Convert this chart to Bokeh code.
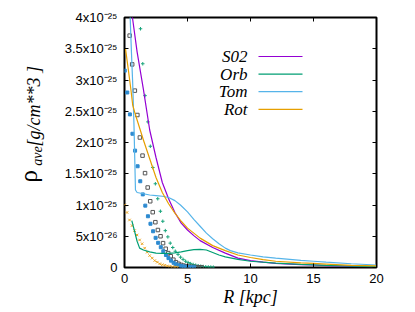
import math
from bokeh.plotting import figure
from bokeh.models import Range1d, FixedTicker, LinearAxis, Label, Arrow
from bokeh.layouts import row
from bokeh.core.properties import value
from bokeh.embed import file_html
from bokeh.resources import INLINE

# densities in units of 1e-25 g/cm^3, radii in kpc
s02_r = [0.3, 0.63, 1.0, 1.5, 2.0, 2.5, 3.0, 3.5, 4.0, 4.5, 5.0, 5.5, 6.0, 7.0, 8.0, 9.0, 10.0, 11.0, 12.0, 14.0, 15.0, 16.0, 18.0, 20.0]
s02_rho = [4.6, 4.0, 3.45, 2.85, 2.2, 1.76, 1.36, 1.1, 0.88, 0.71, 0.6, 0.51, 0.43, 0.32, 0.23, 0.15, 0.11, 0.085, 0.067, 0.045, 0.04, 0.03, 0.018, 0.012]

orb_r = [0.58, 0.8, 1.0, 1.2, 1.5, 2.0, 2.5, 3.0, 3.5, 4.0, 4.5, 5.0, 5.5, 6.0, 6.5, 7.0, 7.5, 8.0, 9.0, 10.0, 12.0, 14.0, 16.0, 18.0, 20.0]
orb_rho = [0.75, 0.58, 0.42, 0.31, 0.28, 0.25, 0.23, 0.225, 0.225, 0.235, 0.25, 0.27, 0.285, 0.29, 0.28, 0.24, 0.2, 0.17, 0.13, 0.1, 0.07, 0.05, 0.035, 0.022, 0.015]

tom_r = [0.35, 0.45, 0.55, 0.65, 0.75, 0.83, 0.87, 1.0, 1.5, 2.0, 2.5, 3.0, 3.5, 4.0, 4.44, 5.0, 5.5, 6.0, 6.5, 7.0, 7.5, 8.0, 8.4, 9.0, 10.0, 11.0, 12.0, 14.0, 15.0, 16.0, 18.0, 20.0]
tom_rho = [4.5, 4.0, 3.45, 2.95, 2.3, 1.6, 1.24, 1.2, 1.18, 1.16, 1.15, 1.14, 1.12, 1.07, 1.0, 0.89, 0.77, 0.66, 0.55, 0.46, 0.38, 0.31, 0.27, 0.235, 0.2, 0.17, 0.15, 0.115, 0.1, 0.085, 0.06, 0.04]

rot_r = [0.08, 0.3, 0.5, 0.65, 0.8, 1.0, 1.5, 2.0, 2.5, 3.0, 3.5, 4.0, 4.5, 5.0, 6.0, 7.0, 8.0, 9.0, 10.0, 11.0, 12.0, 14.0, 15.0, 16.0, 18.0, 20.0]
rot_rho = [3.5, 3.17, 2.86, 2.6, 2.49, 2.36, 2.04, 1.74, 1.44, 1.2, 1.02, 0.87, 0.74, 0.63, 0.47, 0.35, 0.27, 0.2, 0.16, 0.125, 0.1, 0.075, 0.065, 0.055, 0.035, 0.025]

# point samples
orbp_r = [1.27, 1.45, 1.63, 1.86, 2.05, 2.25, 2.45, 2.64, 2.85, 3.04, 3.24, 3.44, 3.63, 3.83, 4.03, 4.25, 4.45, 4.65, 4.85, 5.05, 5.25, 5.45, 5.65, 5.85, 6.05, 6.25, 6.45, 6.65, 6.85, 7.05]
orbp_rho = [3.82, 3.26, 2.75, 2.33, 1.94, 1.6, 1.34, 1.1, 0.9, 0.74, 0.59, 0.49, 0.39, 0.32, 0.26, 0.21, 0.165, 0.13, 0.1, 0.08, 0.062, 0.048, 0.037, 0.028, 0.021, 0.016, 0.012, 0.009, 0.007, 0.005]

sqp_r = [0.41, 0.61, 0.82, 1.02, 1.22, 1.43, 1.63, 1.84, 2.04, 2.24, 2.45, 2.65, 2.86, 3.06, 3.27, 3.47, 3.67, 3.88, 4.08, 4.29, 4.49, 4.69, 4.9, 5.1, 5.31, 5.51, 5.71, 5.92, 6.12]
sqp_rho = [3.71, 3.25, 2.83, 2.44, 2.08, 1.79, 1.51, 1.28, 1.06, 0.885, 0.725, 0.6, 0.5, 0.39, 0.3, 0.23, 0.18, 0.125, 0.085, 0.06, 0.042, 0.03, 0.021, 0.015, 0.011, 0.008, 0.006, 0.004, 0.003]

tomp_r = [0.02, 0.22, 0.43, 0.63, 0.84, 1.04, 1.25, 1.45, 1.65, 1.86, 2.06, 2.27, 2.47, 2.67, 2.88, 3.08, 3.29, 3.49, 3.69, 3.9, 4.1, 4.3, 4.51, 4.71, 4.92, 5.12, 5.33, 5.53]
tomp_rho = [3.15, 2.8, 2.45, 2.14, 1.87, 1.62, 1.38, 1.17, 0.99, 0.82, 0.7, 0.58, 0.475, 0.395, 0.325, 0.26, 0.2, 0.15, 0.11, 0.075, 0.05, 0.035, 0.025, 0.017, 0.012, 0.008, 0.005, 0.004]

rotp_r = [0.02, 0.2, 0.4, 0.6, 0.8, 1.0, 1.2, 1.4, 1.6, 1.8, 2.0, 2.2, 2.4, 2.6, 2.8, 3.0, 3.2, 3.4, 3.6, 3.8, 4.0, 4.2]
rotp_rho = [1.0, 0.88, 0.76, 0.67, 0.59, 0.52, 0.44, 0.38, 0.31, 0.245, 0.19, 0.15, 0.11, 0.085, 0.06, 0.045, 0.035, 0.025, 0.018, 0.012, 0.008, 0.005]

x_ticks = [0, 5, 10, 15, 20]
y_ticks = [0, 0.5, 1, 1.5, 2, 2.5, 3, 3.5, 4]
y_tick_labels = ["0", "5x10⁻²⁶", "1x10⁻²⁵", "1.5x10⁻²⁵", "2x10⁻²⁵", "2.5x10⁻²⁵", "3x10⁻²⁵", "3.5x10⁻²⁵", "4x10⁻²⁵"]

series_names = ["S02", "Orb", "Tom", "Rot"]
series_colors = ["#9400d3", "#009e73", "#56b4e9", "#e69f00"]

H = 312
LEFT_W = 52

# ---- narrow panel carrying the y-axis title (rho_ave [g/cm**3 ])
t = figure(width=LEFT_W, height=H, output_backend="svg", toolbar_location=None,
           x_range=Range1d(0, LEFT_W), y_range=Range1d(0, H),
           min_border=0, x_axis_location=None, y_axis_location=None)
t.grid.visible = False
t.outline_line_color = None
t.background_fill_color = "white"
t.border_fill_color = "white"
t.text(x=[28], y=[H - 206], text=["ρ"], angle=math.pi / 2, text_align="left",
       text_baseline="alphabetic", text_font=value("Liberation Serif"),
       text_font_size="25px", text_color="black")
t.text(x=[37], y=[H - 185], text=["ave"], angle=math.pi / 2, text_align="left",
       text_baseline="alphabetic", text_font=value("Liberation Serif"), text_font_style="italic",
       text_font_size="14px", text_color="black")
t.text(x=[33], y=[H - 161], text=["[g/cm**3 ]"], angle=math.pi / 2, text_align="left",
       text_baseline="alphabetic", text_font=value("Liberation Serif"), text_font_style="italic",
       text_font_size="18px", text_color="black")

# ---- main plot
W = 360
p = figure(width=W, height=H, output_backend="svg", toolbar_location=None,
           x_range=Range1d(0, 20), y_range=Range1d(0, 4),
           min_border_left=124 - LEFT_W, min_border_right=W - (124 - LEFT_W) - 252,
           min_border_top=17, min_border_bottom=H - 17 - 250,
           x_axis_location=None, y_axis_location=None)
p.grid.visible = False
p.outline_line_color = "black"
p.outline_line_width = 2
p.background_fill_color = "white"
p.border_fill_color = "white"

def style_axis(ax, labels=True):
    ax.axis_line_color = None
    ax.major_tick_in = 4
    ax.major_tick_out = 0
    ax.major_tick_line_color = "black"
    ax.major_tick_line_width = 1
    ax.minor_tick_line_color = None
    ax.major_label_text_font = "Liberation Sans"
    ax.major_label_text_font_size = "13px"
    ax.major_label_standoff = 6
    ax.major_label_text_color = "black" if labels else None

xb = LinearAxis(ticker=FixedTicker(ticks=x_ticks))
style_axis(xb)
xb.axis_label = "R [kpc]"
xb.axis_label_text_font = "Liberation Serif"
xb.axis_label_text_font_style = "italic"
xb.axis_label_text_font_size = "18px"
xb.axis_label_text_color = "black"
xb.axis_label_standoff = 1
p.add_layout(xb, "below")
xt = LinearAxis(ticker=FixedTicker(ticks=x_ticks))
style_axis(xt, labels=False)
p.add_layout(xt, "above")

yl = LinearAxis(ticker=FixedTicker(ticks=y_ticks))
style_axis(yl)
yl.major_label_standoff = 7
yl.major_label_overrides = {tk: s for tk, s in zip(y_ticks, y_tick_labels)}
p.add_layout(yl, "left")
yr = LinearAxis(ticker=FixedTicker(ticks=y_ticks))
style_axis(yr, labels=False)
p.add_layout(yr, "right")

# points
p.scatter(orbp_r, orbp_rho, marker="cross", size=3.5, line_color="#1aa57c", line_width=1)
p.scatter(sqp_r, sqp_rho, marker="square", size=3.5, line_color="#555555", fill_color=None, line_width=1)
p.scatter(tomp_r, tomp_rho, marker="square", size=3, line_color="#2d8ad0", fill_color="#2d8ad0")
p.scatter(rotp_r, rotp_rho, marker="x", size=3.5, line_color="#eda520", line_width=1)

# lines
for xs, ys, c in [(s02_r, s02_rho, series_colors[0]), (orb_r, orb_rho, series_colors[1]),
                  (tom_r, tom_rho, series_colors[2]), (rot_r, rot_rho, series_colors[3])]:
    p.line(xs, ys, line_color=c, line_width=1.2)

# legend (gnuplot style: text then sample line)
for i, (name, c) in enumerate(zip(series_names, series_colors)):
    yy = 211 - i * 17.6
    p.add_layout(Label(x=123, y=yy, x_units="screen", y_units="screen", text=name,
                       text_align="right", text_baseline="middle", text_font="Liberation Serif",
                       text_font_style="italic", text_font_size="17px", text_color="black"))
    p.add_layout(Arrow(x_start=134, y_start=yy, x_end=178, y_end=yy,
                       start_units="screen", end_units="screen", end=None, start=None,
                       line_color=c, line_width=1.2))

layout = row(t, p)
open("out.html", "w").write(file_html(layout, INLINE))
